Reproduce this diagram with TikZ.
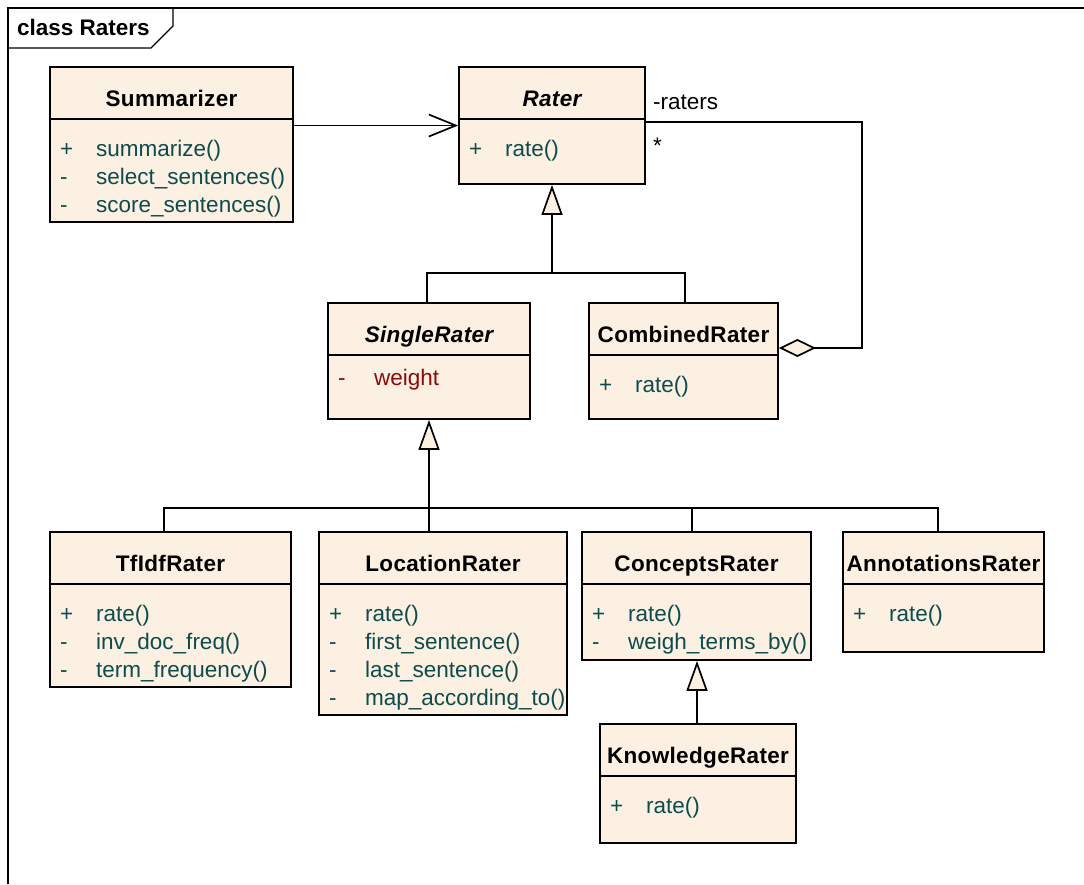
\documentclass[tikz,border=0pt]{standalone}
\usepackage{fontspec}
\setmainfont{Liberation Sans}
\newfontfamily\titlefont[LetterSpace=1.5]{Liberation Sans}
\usetikzlibrary{arrows.meta}

\definecolor{classfill}{RGB}{251,240,226}
\definecolor{optext}{RGB}{14,76,76}
\definecolor{attrtext}{RGB}{140,10,10}

\tikzset{
  txt/.style={font=\fontsize{22.5}{27}\selectfont, inner sep=0pt},
  classbox/.style={draw, line width=1.8pt, fill=classfill, inner sep=0pt},
  boxline/.style={line width=1.8pt},
  classname/.style={txt, anchor=base, font=\titlefont\fontsize{22.5}{27}\selectfont\bfseries},
  abstractname/.style={txt, anchor=base, font=\titlefont\fontsize{22.5}{27}\selectfont\bfseries\itshape},
  optxt/.style={txt, anchor=base west, text=optext},
  attrtxt/.style={txt, anchor=base west, text=attrtext},
  conn/.style={line width=1.7pt},
  gen/.style={conn, -{Triangle[length=30pt,width=21pt,fill=classfill,line width=1.7pt]}},
  assoc/.style={conn, -{Straight Barb[length=27pt,width=22pt,line width=1.7pt]}, line join=miter},
  agg/.style={conn, {Diamond[length=37pt,width=18pt,fill=classfill,line width=1.7pt]}-},
}

% class box: name, left, top, right, bottom, title style, title
\newcommand\umlclass[7]{%
  \node[classbox, minimum width={#4-#2}, minimum height={#5-#3}] (#1) at ({(#2+#4)/2},{(#3+#5)/2}) {};
  \node[#6] (#1-title) at ({(#2+#4)/2},{#3+39}) {#7};
  \draw[boxline] ({#2},{#3+52}) -- ({#4},{#3+52});
}
% operation row: box, row, left, top, sign, text
\newcommand\umlop[6]{%
  \node[optxt] (#1-s#2) at ({#3+10},{#4+89+28*(#2-1)}) {#5};
  \node[optxt] (#1-o#2) at ({#3+46},{#4+89+28*(#2-1)}) {#6};
}

\begin{document}
\begin{tikzpicture}[x=1pt,y=-1pt]
\useasboundingbox (0,0) rectangle (1084,884);

% diagram frame with its name tab
\draw[line width=1.4pt] (8,884) -- (8,8) -- (1084,8);
\draw[line width=1.4pt] (8,48) -- (151,48) -- (173,26) -- (173,8);
\node[txt, anchor=base west, font=\fontsize{22.5}{27}\selectfont\bfseries] (frametitle) at (17,35) {class Raters};

% classes
\umlclass{sum}{50}{67}{293}{222}{classname}{Summarizer}
\umlop{sum}{1}{50}{67}{+}{summarize()}
\umlop{sum}{2}{50}{67}{-}{select\_sentences()}
\umlop{sum}{3}{50}{67}{-}{score\_sentences()}

\umlclass{rater}{459}{67}{645}{184}{abstractname}{Rater}
\umlop{rater}{1}{459}{67}{+}{rate()}

\umlclass{single}{328}{303}{530}{419}{abstractname}{SingleRater}
\node[attrtxt] (single-s1) at (338,385) {-};
\node[attrtxt] (single-a1) at (374,385) {weight};

\umlclass{comb}{589}{303}{778}{419}{classname}{CombinedRater}
\umlop{comb}{1}{589}{303}{+}{rate()}

\umlclass{tfidf}{50}{532}{291}{687}{classname}{TfIdfRater}
\umlop{tfidf}{1}{50}{532}{+}{rate()}
\umlop{tfidf}{2}{50}{532}{-}{inv\_doc\_freq()}
\umlop{tfidf}{3}{50}{532}{-}{term\_frequency()}

\umlclass{loc}{319}{532}{567}{715}{classname}{LocationRater}
\umlop{loc}{1}{319}{532}{+}{rate()}
\umlop{loc}{2}{319}{532}{-}{first\_sentence()}
\umlop{loc}{3}{319}{532}{-}{last\_sentence()}
\umlop{loc}{4}{319}{532}{-}{map\_according\_to()}

\umlclass{conc}{582}{532}{811}{660}{classname}{ConceptsRater}
\umlop{conc}{1}{582}{532}{+}{rate()}
\umlop{conc}{2}{582}{532}{-}{weigh\_terms\_by()}

\umlclass{ann}{843}{532}{1044}{652}{classname}{AnnotationsRater}
\umlop{ann}{1}{843}{532}{+}{rate()}

\umlclass{know}{600}{724}{796}{843}{classname}{KnowledgeRater}
\umlop{know}{1}{600}{724}{+}{rate()}

% Summarizer uses Rater
\draw[assoc] (sum.east |- rater.west) -- (rater.west);

% CombinedRater aggregates raters
\draw[agg] ([yshift=13pt]comb.east) -- ++(83,0) |- ([yshift=3.5pt]rater.east);
\node[txt, anchor=base west] (role) at (653,109) {-raters};
\node[txt, anchor=base west] (mult) at (653,153) {*};

% Rater generalisation tree
\coordinate (j1) at (rater.south |- 0,273);
\draw[conn] ([xshift=-2pt]single.north) |- (j1) -| ([xshift=1.5pt]comb.north);
\draw[gen] (j1) -- (rater.south);

% SingleRater generalisation tree
\path (single.south) ++(0,88) coordinate (j2);
\draw[conn] ([xshift=-6.5pt]tfidf.north) |- (j2) -| ([xshift=-4.5pt]conc.north);
\draw[conn] ([xshift=-4.5pt]conc.north |- j2) -| ([xshift=-5.5pt]ann.north);
\draw[gen] (loc.north -| j2) -- (single.south);

% KnowledgeRater specialises ConceptsRater
\draw[gen] ([xshift=-1pt]know.north) -- ([xshift=-1pt]know.north |- conc.south);
\end{tikzpicture}
\end{document}
